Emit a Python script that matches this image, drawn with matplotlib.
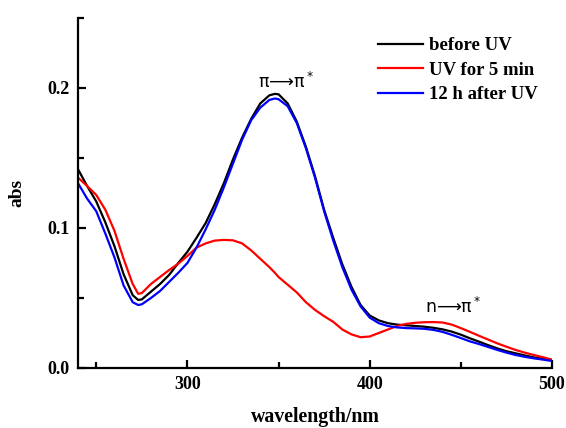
import matplotlib
matplotlib.use("Agg")
import matplotlib.pyplot as plt
from matplotlib.ticker import MultipleLocator

wavelength = [240, 245, 250, 255, 260, 265, 270, 273, 275, 280, 285, 290, 295, 300,
              305, 310, 315, 320, 325, 330, 335, 340, 345, 348, 350, 355, 360, 365,
              370, 375, 380, 385, 390, 395, 400, 405, 410, 415, 420, 425, 430, 435,
              440, 445, 450, 455, 460, 465, 470, 475, 480, 485, 490, 495, 500]

before_uv = [0.142, 0.130, 0.119, 0.104, 0.087, 0.067, 0.052, 0.0486, 0.049, 0.0545,
             0.060, 0.0665, 0.075, 0.083, 0.093, 0.1035, 0.117, 0.132, 0.149, 0.1645,
             0.178, 0.189, 0.1948, 0.1958, 0.1955, 0.189, 0.176, 0.158, 0.137, 0.113,
             0.093, 0.074, 0.058, 0.045, 0.0375, 0.034, 0.032, 0.031, 0.0305, 0.030,
             0.0295, 0.0287, 0.0276, 0.026, 0.0238, 0.0212, 0.0188, 0.0163, 0.014,
             0.012, 0.0105, 0.009, 0.0076, 0.0066, 0.0057]

uv_5min = [0.136, 0.130, 0.1236, 0.113, 0.098, 0.078, 0.060, 0.053, 0.0535, 0.060,
           0.065, 0.070, 0.0745, 0.080, 0.086, 0.089, 0.091, 0.0915, 0.0912, 0.089,
           0.084, 0.078, 0.072, 0.068, 0.065, 0.0595, 0.054, 0.047, 0.0415, 0.037,
           0.033, 0.0275, 0.024, 0.022, 0.0225, 0.025, 0.0275, 0.030, 0.0315, 0.0323,
           0.0327, 0.0328, 0.0325, 0.031, 0.0285, 0.0258, 0.023, 0.0203, 0.0176,
           0.0152, 0.0129, 0.011, 0.0093, 0.0077, 0.006]

after_12h = [0.132, 0.121, 0.112, 0.096, 0.079, 0.059, 0.047, 0.045, 0.0455, 0.050,
             0.055, 0.0615, 0.068, 0.075, 0.086, 0.099, 0.113, 0.129, 0.146, 0.163,
             0.177, 0.186, 0.1915, 0.1925, 0.192, 0.187, 0.175, 0.157, 0.136, 0.112,
             0.091, 0.072, 0.056, 0.044, 0.036, 0.032, 0.030, 0.029, 0.0285, 0.0283,
             0.028, 0.0272, 0.0258, 0.0237, 0.0214, 0.019, 0.0171, 0.015, 0.0129,
             0.011, 0.0093, 0.008, 0.0069, 0.006, 0.005]

series_labels = ["before UV", "UV for 5 min", "12 h after UV"]
series_colors = ["#000000", "#ff0000", "#0000ff"]

serif = "Liberation Serif"

fig = plt.figure(figsize=(5.66, 4.28), dpi=100)
ax = fig.add_axes([78 / 566, 1 - 368 / 428, (552 - 78) / 566, (368 - 18) / 428])

for ys, lab, col in zip([before_uv, uv_5min, after_12h], series_labels, series_colors):
    ax.plot(wavelength, ys, color=col, lw=1.6, label=lab)

ax.set_xlim(240, 500)
ax.set_ylim(0, 0.25)
ax.xaxis.set_major_locator(MultipleLocator(100))
ax.xaxis.set_minor_locator(MultipleLocator(50))
ax.yaxis.set_major_locator(MultipleLocator(0.1))
ax.yaxis.set_minor_locator(MultipleLocator(0.05))
ax.set_yticks([0.0, 0.1, 0.2])
ax.set_yticklabels(["0.0", "0.1", "0.2"])
ax.set_xticks([300, 400, 500])

ax.spines["top"].set_visible(False)
ax.spines["right"].set_visible(False)
for s in ("left", "bottom"):
    ax.spines[s].set_linewidth(1.6)

ax.tick_params(axis="both", which="major", direction="in", length=6, width=1.6, pad=6)
ax.tick_params(axis="both", which="minor", direction="in", length=4, width=1.6)
for lbl in ax.get_xticklabels() + ax.get_yticklabels():
    lbl.set_fontfamily(serif)
    lbl.set_fontweight("bold")
    lbl.set_fontsize(13)

ax.set_xlabel("wavelength/nm", fontfamily=serif, fontweight="bold", fontsize=14.3, labelpad=10)
ax.set_ylabel("abs", fontfamily=serif, fontweight="bold", fontsize=14, labelpad=16)

leg = ax.legend(loc="upper left", bbox_to_anchor=(378 / 566, 1 - 37 / 428),
                bbox_transform=fig.transFigure, frameon=False,
                prop={"family": serif, "weight": "bold", "size": 13.5},
                handlelength=2.4, handletextpad=0.3, labelspacing=0.40,
                borderpad=0.0, borderaxespad=0.0)

ax.text(354, 0.200, "π⟶π$^*$", ha="center", va="baseline", fontsize=12.5,
        fontfamily="DejaVu Sans")
ax.text(446, 0.0393, "n⟶π$^*$", ha="center", va="baseline", fontsize=12.5,
        fontfamily="DejaVu Sans")

fig.savefig("out.png", dpi=100)
